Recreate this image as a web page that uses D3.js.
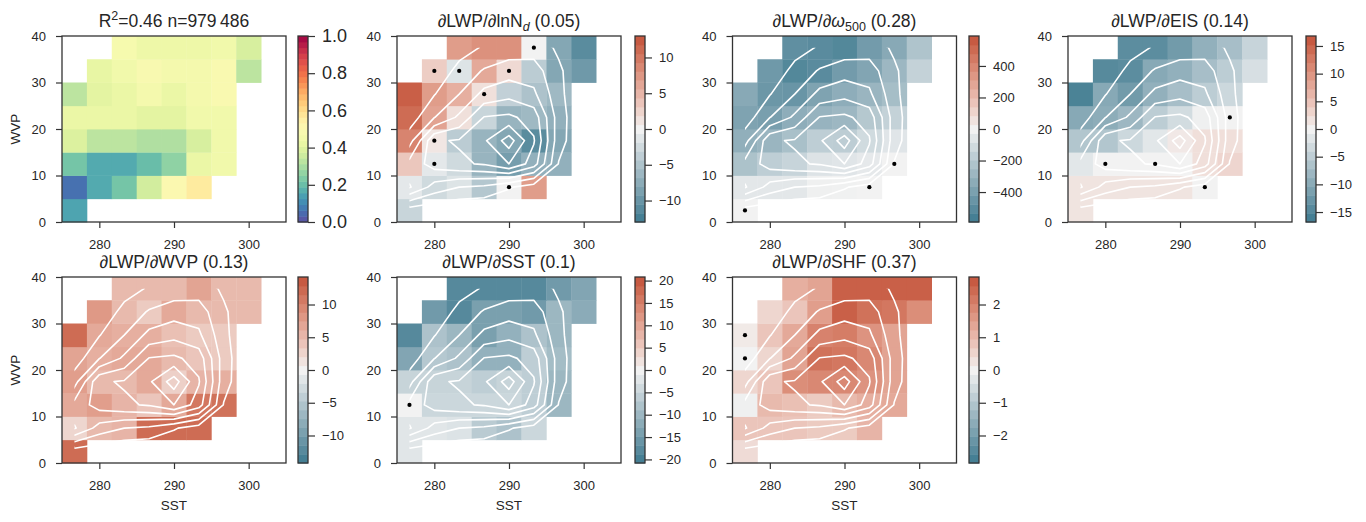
<!DOCTYPE html>
<html>
<head>
<meta charset="utf-8">
<script src="https://cdn.jsdelivr.net/npm/d3@7"></script>
<style>
  body { margin: 0; background: #fff; }
  text { font-family: "Liberation Sans", Arial, sans-serif; fill: #262626; }
</style>
</head>
<body>
<div id="chart"></div>
<script>
const w = 1366, h = 522;

// bin centres
const sstCenters = [276.67, 280, 283.33, 286.67, 290, 293.33, 296.67, 300, 303.33];
const wvpCenters = [2.5, 7.5, 12.5, 17.5, 22.5, 27.5, 32.5, 37.5];
const sstTicks = [280, 290, 300];
const wvpTicks = [0, 10, 20, 30, 40];

// sample density per bin (rows go up from WVP=2.5), shown as white contours
const density = [
  [0.53, 0.3, 0.1, 0.05, 0, 0, 0, 0, 0],
  [4.1, 2.6, 2.0, 1.8, 1.1, 0.5, 0.1, 0, 0],
  [3.36, 4.43, 4.85, 5.1, 6.0, 4.5, 0.95, 0.1, 0],
  [1.57, 4.87, 5.09, 5.83, 7.5, 5.1, 1.4, 0.1, 0],
  [0.43, 1.97, 3.2, 5.05, 5.2, 4.6, 1.5, 0, 0],
  [0.05, 0.95, 2.0, 3.3, 3.68, 3.2, 1.3, 0, 0],
  [0, 0.3, 1.3, 2.1, 2.55, 2.5, 1.15, 0.3, 0],
  [0, 0.1, 0.6, 1.1, 1.4, 1.5, 0.85, 0.4, 0.1]
];
const densityLevels = [1, 2, 3, 4, 5, 6, 7];

const _ = null; // empty bin

const r2Values = [
  [0.15, _, _, _, _, _, _, _, _],
  [0.06, 0.16, 0.22, 0.37, 0.50, 0.56, _, _, _],
  [0.22, 0.16, 0.16, 0.20, 0.26, 0.43, 0.45, _, _],
  [0.39, 0.33, 0.33, 0.31, 0.31, 0.38, 0.45, _, _],
  [0.43, 0.43, 0.43, 0.41, 0.41, 0.45, 0.45, _, _],
  [0.33, 0.41, 0.43, 0.46, 0.43, 0.46, 0.49, _, _],
  [_, 0.42, 0.45, 0.48, 0.46, 0.46, 0.49, 0.33, _],
  [_, _, 0.47, 0.44, 0.44, 0.44, 0.45, 0.38, _]
];
const ndValues = [
  [-3, _, _, _, _, _, _, _, _],
  [-1, -2.5, -1.5, -4.5, 0, 7, _, _, _],
  [3.5, -1, -2.5, -6.5, -9, -7, -7, _, _],
  [9, 1, -4, -6.5, -8, -11, -8, _, _],
  [11, 6.5, 1.5, -3, -6.5, -6, -7, _, _],
  [12, 7, 5.5, 1.5, -3.5, -5, -6, _, _],
  [_, 3, -1.5, 6, 2, -4, -8, -9.5, _],
  [_, _, 7, 8, 8, 0, -8, -11, _]
];
const omegaValues = [
  [0, _, _, _, _, _, _, _, _],
  [-50, -50, -50, -10, -5, 0, _, _, _],
  [-230, -170, -140, -70, -60, -40, 0, _, _],
  [-320, -290, -240, -170, -175, -110, -60, _, _],
  [-380, -400, -330, -300, -280, -200, -150, _, _],
  [-350, -440, -450, -380, -330, -290, -250, _, _],
  [_, -430, -520, -500, -420, -370, -280, -150, _],
  [_, _, -480, -500, -520, -420, -350, -220, _]
];
const eisValues = [
  [1.5, _, _, _, _, _, _, _, _],
  [1.5, 1.5, 1.5, 1.5, 1.5, 0, _, _, _],
  [-1.5, 0, 0, 0, 0, 2, 3, _, _],
  [-6, -6, -3.5, -1.5, 1, 2, 2, _, _],
  [-10, -9.5, -8, -5, -3, -0.3, 0, _, _],
  [-15.5, -10, -12, -9, -7, -5, -3.5, _, _],
  [_, -14.5, -14, -10, -9, -7, -5, -2.5, _],
  [_, _, -14, -14, -12, -9, -7, -4, _]
];
const wvpValues = [
  [12, _, _, _, _, _, _, _, _],
  [2.5, 5, 5.5, 12, 12, 12, _, _, _],
  [6.5, 7.5, 5.5, 4, 6.5, 11, 11.5, _, _],
  [7.5, 5, 5, 6.5, 3, 5.5, 6, _, _],
  [7, 6, 6.5, 6.5, 5, 4, 3.5, _, _],
  [12, 6.5, 6, 6, 4.5, 3.5, 3.5, _, _],
  [_, 8, 5, 3.5, 6.5, 5, 5, 5, _],
  [_, _, 5, 5, 5, 7, 5, 5, _]
];
const sstValues = [
  [-2, _, _, _, _, _, _, _, _],
  [-2, -2, -2.5, -6.5, -8, -4.5, _, _, _],
  [0, -4.5, -4.5, -4.5, -4.5, -6, -10, _, _],
  [-5, -5, -5, -6, -5, -6, -10, _, _],
  [-13, -7, -8, -11, -11, -6, -9, _, _],
  [-18, -8, -10, -14, -11, -8, -10, _, _],
  [_, -15, -18, -14, -14, -15, -10, -12, _],
  [_, _, -18, -18, -18, -18, -15, -13, _]
];
const shfValues = [
  [0.4, _, _, _, _, _, _, _, _],
  [0.8, 0.8, 0.8, 0.7, 0.7, 1.1, _, _, _],
  [-0.05, 1.0, 0.9, 0.7, 1.0, 1.2, 1.3, _, _],
  [0.5, 0.8, 1.8, 1.9, 1.9, 1.7, 1.4, _, _],
  [0.0, 0.5, 1.4, 2.3, 2.2, 1.9, 1.4, _, _],
  [0.15, 0.8, 1.3, 2.0, 2.1, 1.7, 1.4, _, _],
  [_, 0.5, 0.8, 1.5, 2.6, 2.3, 2.2, 1.8, _],
  [_, _, 1.2, 1.4, 2.6, 2.6, 2.6, 2.6, _]
];

// bins marked with a dot: [sst index, wvp index]
const ndDots = [[5, 7], [1, 6], [2, 6], [4, 6], [3, 5], [1, 3], [1, 2], [4, 1]];
const omegaDots = [[0, 0], [5, 1], [6, 2]];
const eisDots = [[1, 2], [3, 2], [5, 1], [6, 4]];
const sstDots = [[0, 2]];
const shfDots = [[0, 5], [0, 4]];

const panels = [
  {col: 0, row: 0, values: r2Values, dots: [], contours: false, vmax: 1, spectral: true,
   cbTicks: [0, 0.2, 0.4, 0.6, 0.8, 1.0], fmt: d3.format(".1f"),
   title: [{t: "R"}, {t: "2", sup: true}, {t: "=0.46 n=979\u2009486"}]},
  {col: 1, row: 0, values: ndValues, dots: ndDots, contours: true, vmax: 13,
   cbTicks: [-10, -5, 0, 5, 10],
   title: [{t: "\u2202LWP/\u2202lnN"}, {t: "d", sub: true, it: true}, {t: " (0.05)"}]},
  {col: 2, row: 0, values: omegaValues, dots: omegaDots, contours: true, vmax: 590,
   cbTicks: [-400, -200, 0, 200, 400],
   title: [{t: "\u2202LWP/\u2202"}, {t: "\u03c9", it: true}, {t: "500", sub: true}, {t: " (0.28)"}]},
  {col: 3, row: 0, values: eisValues, dots: eisDots, contours: true, vmax: 16.8,
   cbTicks: [-15, -10, -5, 0, 5, 10, 15],
   title: [{t: "\u2202LWP/\u2202EIS (0.14)"}]},
  {col: 0, row: 1, values: wvpValues, dots: [], contours: true, vmax: 14.2,
   cbTicks: [-10, -5, 0, 5, 10],
   title: [{t: "\u2202LWP/\u2202WVP (0.13)"}]},
  {col: 1, row: 1, values: sstValues, dots: sstDots, contours: true, vmax: 20.8,
   cbTicks: [-20, -15, -10, -5, 0, 5, 10, 15, 20],
   title: [{t: "\u2202LWP/\u2202SST (0.1)"}]},
  {col: 2, row: 1, values: shfValues, dots: shfDots, contours: true, vmax: 2.84,
   cbTicks: [-2, -1, 0, 1, 2],
   title: [{t: "\u2202LWP/\u2202SHF (0.37)"}]}
];

const colX = [62, 397, 732.5, 1068];
const cbX = [298, 635, 969, 1306];
const rowY = [36, 277];
const axW = 224, axH = 186, cbW = 10;
const frameColor = "#333";
const tickFont = 13;

const svg = d3.select("#chart").append("svg")
  .attr("width", w).attr("height", h);

const sstStep = sstCenters[1] - sstCenters[0];
const wvpStep = wvpCenters[1] - wvpCenters[0];
const sst0 = sstCenters[0] - sstStep / 2;
const wvp0 = wvpCenters[0] - wvpStep / 2;

const contourSets = d3.contours()
  .size([sstCenters.length, wvpCenters.length])
  .thresholds(densityLevels)(density.flat());

function addTitle(sel, parts) {
  parts.forEach((p, i) => {
    const ts = sel.append("tspan").text(p.t);
    if (p.it) ts.attr("font-style", "italic");
    if (p.sub) ts.attr("dy", 4).attr("font-size", 12.5);
    if (p.sup) ts.attr("dy", -7).attr("font-size", 12.5);
    const prev = parts[i - 1];
    if (prev && prev.sub && !p.sub) ts.attr("dy", -4);
    if (prev && prev.sup && !p.sup) ts.attr("dy", 7);
  });
}

panels.forEach((p, i) => {
  const left = colX[p.col], top = rowY[p.row];
  const x = d3.scaleLinear([275, 305], [left, left + axW]);
  const y = d3.scaleLinear([0, 40], [top + axH, top]);
  const color = p.spectral
    ? (v => d3.interpolateSpectral(1 - v))
    : d3.scaleLinear([-p.vmax, 0, p.vmax], ["#3b7a8f", "#f2f2f2", "#c3523a"])
        .interpolate(d3.interpolateLab).clamp(true);

  const g = svg.append("g");

  const cells = p.values.flatMap((row, j) =>
    row.map((v, k) => ({v, sst: sstCenters[k], wvp: wvpCenters[j]})))
    .filter(d => d.v !== null);

  g.selectAll("rect.cell")
    .data(cells)
    .join("rect")
    .attr("class", "cell")
    .attr("x", d => x(d.sst - sstStep / 2))
    .attr("y", d => y(d.wvp + wvpStep / 2))
    .attr("width", d => x(d.sst + sstStep / 2) - x(d.sst - sstStep / 2) + 0.4)
    .attr("height", d => y(d.wvp - wvpStep / 2) - y(d.wvp + wvpStep / 2) + 0.4)
    .attr("fill", d => color(d.v));

  if (p.contours) {
    const clipId = "clip" + i;
    g.append("clipPath").attr("id", clipId)
      .append("rect")
      .attr("x", x(sstCenters[0]))
      .attr("y", y(wvpCenters[wvpCenters.length - 1]))
      .attr("width", x(sstCenters[sstCenters.length - 1]) - x(sstCenters[0]))
      .attr("height", y(wvpCenters[0]) - y(wvpCenters[wvpCenters.length - 1]));
    const path = d3.geoPath(d3.geoTransform({
      point(px, py) { this.stream.point(x(sst0 + px * sstStep), y(wvp0 + py * wvpStep)); }
    }));
    g.append("g").attr("clip-path", `url(#${clipId})`)
      .selectAll("path")
      .data(contourSets)
      .join("path")
      .attr("d", path)
      .attr("fill", "none")
      .attr("stroke", "#fff")
      .attr("stroke-width", 1.6)
      .attr("stroke-linejoin", "round");
  }

  g.selectAll("circle")
    .data(p.dots)
    .join("circle")
    .attr("cx", d => x(sstCenters[d[0]]))
    .attr("cy", d => y(wvpCenters[d[1]]))
    .attr("r", 2.1)
    .attr("fill", "#000");

  // frame
  g.append("rect")
    .attr("x", left).attr("y", top).attr("width", axW).attr("height", axH)
    .attr("fill", "none").attr("stroke", frameColor).attr("stroke-width", 1.3);

  const xAxis = g.append("g")
    .attr("transform", `translate(0,${top + axH})`)
    .call(d3.axisBottom(x).tickValues(sstTicks).tickSize(6).tickPadding(12));
  const yAxis = g.append("g")
    .attr("transform", `translate(${left},0)`)
    .call(d3.axisLeft(y).tickValues(wvpTicks).tickSize(6).tickPadding(10));
  [xAxis, yAxis].forEach(a => {
    a.select(".domain").remove();
    a.selectAll("line").attr("stroke", frameColor).attr("stroke-width", 1.2);
    a.selectAll("text").attr("font-size", tickFont).attr("fill", "#262626")
      .attr("font-family", '"Liberation Sans", Arial, sans-serif');
  });

  // title
  const title = g.append("text")
    .attr("x", left + axW / 2).attr("y", top - 9)
    .attr("text-anchor", "middle").attr("font-size", 17.5);
  addTitle(title, p.title);

  if (p.col === 0) {
    g.append("text")
      .attr("transform", `translate(20,${top + axH / 2}) rotate(-90)`)
      .attr("text-anchor", "middle").attr("font-size", 13.5)
      .text("WVP");
  }
  if (p.row === 1) {
    g.append("text")
      .attr("x", left + axW / 2).attr("y", top + axH + 47)
      .attr("text-anchor", "middle").attr("font-size", 13.5)
      .text("SST");
  }

  // colour bar
  const cx = cbX[p.col];
  const lo = p.spectral ? 0 : -p.vmax;
  const yc = d3.scaleLinear([lo, p.vmax], [top + axH, top]);
  const nBands = p.spectral ? 32 : 21;
  const bands = d3.range(nBands).map(b => lo + (p.vmax - lo) * b / nBands);
  const bw = (p.vmax - lo) / nBands;
  g.append("g").selectAll("rect")
    .data(bands)
    .join("rect")
    .attr("x", cx)
    .attr("y", d => yc(d + bw))
    .attr("width", cbW)
    .attr("height", d => yc(d) - yc(d + bw) + 0.5)
    .attr("fill", d => color(d + bw / 2));
  g.append("rect")
    .attr("x", cx).attr("y", top).attr("width", cbW).attr("height", axH)
    .attr("fill", "none").attr("stroke", frameColor).attr("stroke-width", 1.3);
  const cAxis = g.append("g")
    .attr("transform", `translate(${cx + cbW},0)`)
    .call(d3.axisRight(yc).tickValues(p.cbTicks).tickSize(7).tickPadding(7)
      .tickFormat(p.fmt || d3.format("d")));
  cAxis.select(".domain").remove();
  cAxis.selectAll("line").attr("stroke", frameColor).attr("stroke-width", 1.2);
  cAxis.selectAll("text").attr("font-size", p.spectral ? 18 : tickFont).attr("fill", "#262626")
    .attr("font-family", '"Liberation Sans", Arial, sans-serif');
});
</script>
</body>
</html>
